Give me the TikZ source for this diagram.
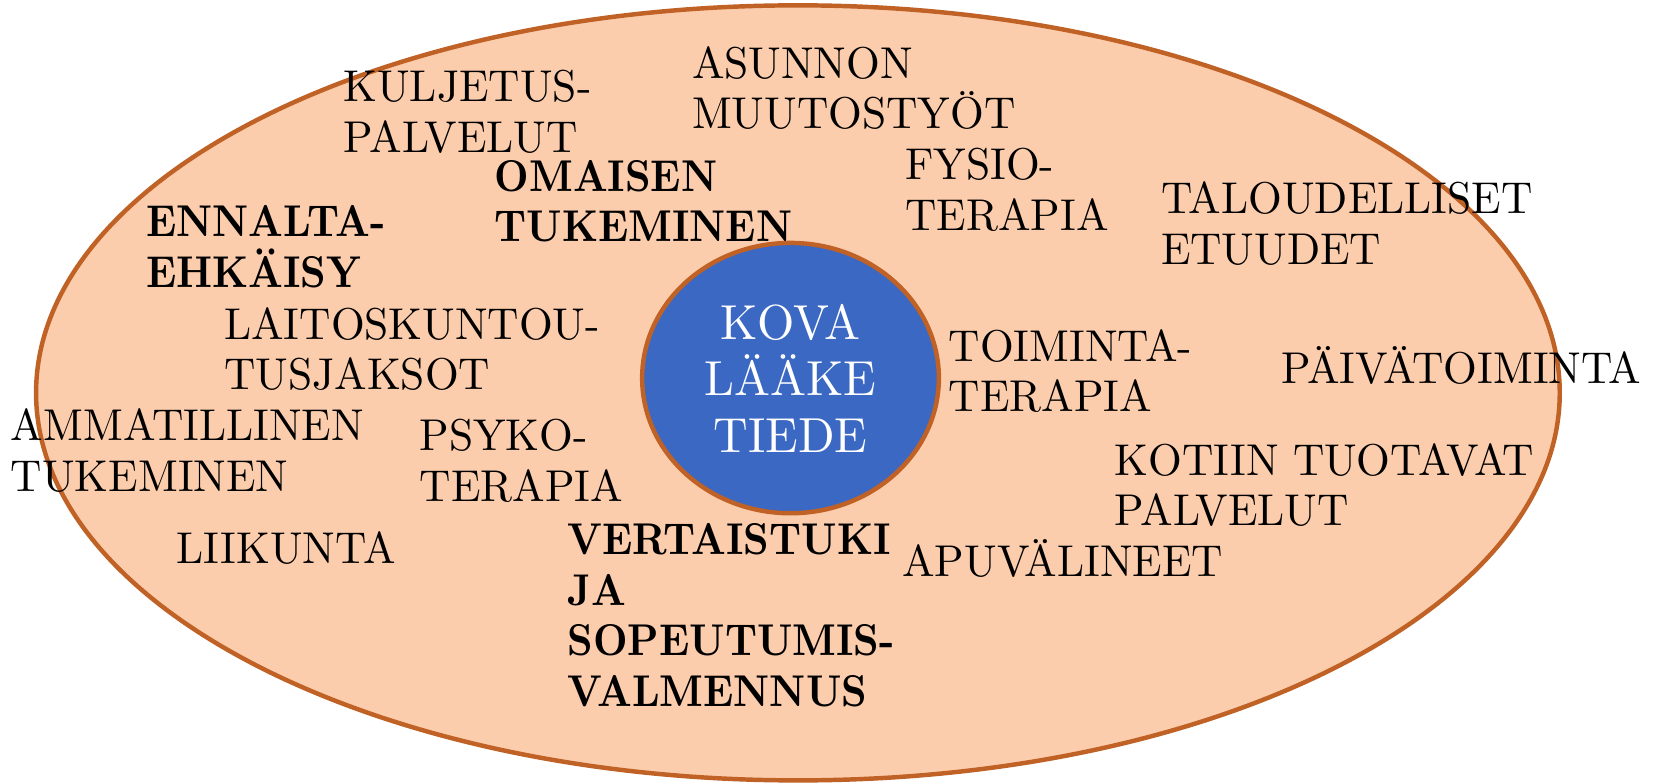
\documentclass[tikz,border=0pt]{standalone}
\usepackage{fontspec}
\setmainfont{lmroman10-regular.otf}[FakeStretch=0.975, BoldFont=lmroman10-bold.otf, BoldFeatures={FakeStretch=0.9}]
\usetikzlibrary{shapes.geometric}
\definecolor{peach}{RGB}{252,205,172}
\definecolor{rust}{RGB}{192,97,38}
\definecolor{coreblue}{RGB}{58,104,194}

\begin{document}
\begin{tikzpicture}[x=0.02cm, y=-0.02cm,
  item/.style={anchor=base west, align=left, inner sep=0pt, font=\fontsize{24}{27.3}\selectfont},
  bolditem/.style={item, font=\fontsize{24}{27.3}\selectfont\bfseries},
  ring/.style={ellipse, draw=rust, line width=2.4pt}]
  \useasboundingbox (0,0) rectangle (1568,742);
  \node[ring, fill=peach, minimum width=28.86cm, minimum height=14.68cm] (field) at (755.5,372) {};
  \node[ring, fill=coreblue, minimum width=5.62cm, minimum height=5.12cm, text=white, align=center, font=\fontsize{26.5}{30.4}\selectfont] (core) at (748.5,358) {KOVA\\LÄÄKE\\TIEDE};
  % palvelut ympärillä (base = viimeisen rivin perusviiva)
  \node[item] (kuljetus) at (325,144) {KULJETUS-\\PALVELUT};
  \node[item] (asunnon) at (655,122) {ASUNNON\\MUUTOSTYÖT};
  \node[bolditem] (omaisen) at (468,229) {OMAISEN\\TUKEMINEN};
  \node[item] (fysio) at (857,218) {FYSIO-\\TERAPIA};
  \node[item] (talous) at (1099,250) {TALOUDELLISET\\ETUUDET};
  \node[bolditem] (ennalta) at (138,272) {ENNALTA-\\EHKÄISY};
  \node[item] (laitos) at (212,369) {LAITOSKUNTOU-\\TUSJAKSOT};
  \node[item] (toiminta) at (898,390) {TOIMINTA-\\TERAPIA};
  \node[item] (paiva) at (1213,363) {PÄIVÄTOIMINTA};
  \node[item] (ammatti) at (10,465) {AMMATILLINEN\\TUKEMINEN};
  \node[item] (psyko) at (397,475) {PSYKO-\\TERAPIA};
  \node[item] (kotiin) at (1055,498) {KOTIIN TUOTAVAT\\PALVELUT};
  \node[item] (liikunta) at (167,534) {LIIKUNTA};
  \node[bolditem] (vertais) at (537,669) {VERTAISTUKI\\JA\\SOPEUTUMIS-\\VALMENNUS};
  \node[item] (apuv) at (854,546) {APUVÄLINEET};
\end{tikzpicture}
\end{document}
